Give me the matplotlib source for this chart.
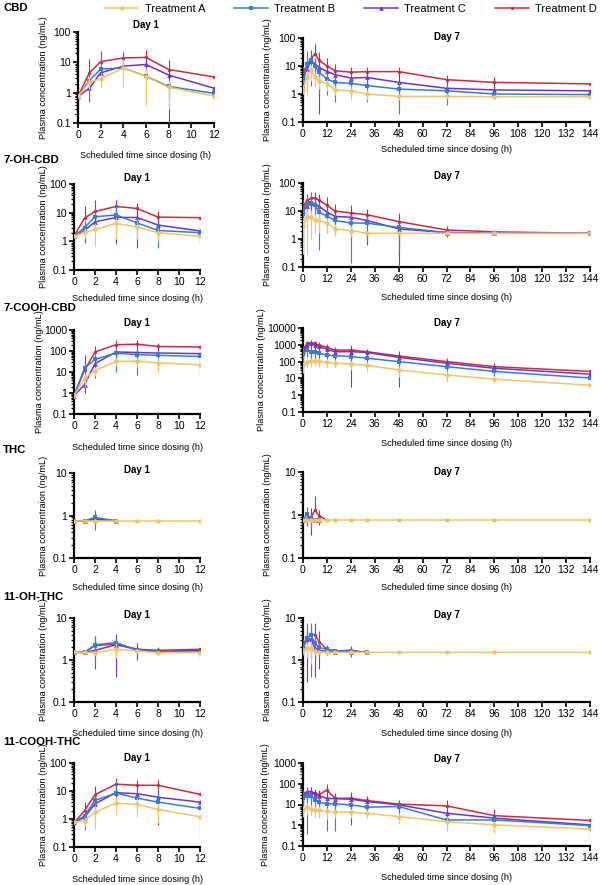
import matplotlib
matplotlib.use("Agg")
import matplotlib.pyplot as plt
import numpy as np
from matplotlib.lines import Line2D
from matplotlib.ticker import LogLocator, FuncFormatter, NullFormatter

plt.rcParams["font.family"] = ["Liberation Sans", "DejaVu Sans"]

# ===================== data =====================
TREATMENTS = ["Treatment A", "Treatment B", "Treatment C", "Treatment D"]
ANALYTES = ["CBD", "7-OH-CBD", "7-COOH-CBD", "THC", "11-OH-THC", "11-COOH-THC"]
T_DAY1 = [0, 1, 2, 4, 6, 8, 12]
T_DAY7 = [0, 2, 4, 6, 8, 12, 16, 24, 32, 48, 72, 96, 144]
NAN = np.nan

# mean per treatment (A, B, C, D), sd per treatment
CBD_D1_MEAN = [[0.75, 2.2, 2.9, 6.5, 3.4, 1.5, 0.78],
               [0.75, 2.5, 6.0, 6.5, 3.5, 1.6, 0.95],
               [0.75, 1.4, 4.5, 7.5, 8.5, 3.8, 1.4],
               [0.75, 4.5, 10.5, 14, 14.5, 5.8, 3.3]]
CBD_D1_SD = [[0, 1.0, 1.5, 5.0, 3.0, 1.2, 0.2],
             [0, 2.0, 14, 9, 3.0, 1.0, 0.35],
             [0, 0.3, 5, 8, 5, 2.0, 1.1],
             [0, 8.5, 13.5, 8, 10.5, 5.7, 6.2]]
CBD_D7_MEAN = [[1.5, 4, 7, 4, 3, 2.3, 1.4, 1.3, 1.0, 0.82, 0.82, 0.8, 0.8],
               [2, 12, 17, 10, 6, 3.4, 2.6, 2.4, 2.0, 1.5, 1.3, 1.0, 0.95],
               [4, 8, 15, 12, 8.9, 6.4, 4.9, 3.7, 3.9, 2.6, 1.6, 1.4, 1.3],
               [6, 10, 18, 27, 16, 10, 6.8, 6, 6.3, 6.3, 3.25, 2.6, 2.3]]
CBD_D7_SD = [[0.5, 3, 4, 2, 1.5, 1.0, 0.5, 0.7, 0.4, 0.2, 0.15, 0.1, 0.2],
             [1, 23, 15, 8, 5, 2.5, 2.1, 1.5, 1.5, 1.3, 0.9, 0.3, 0.3],
             [2, 6, 10, 8, 6, 4, 3, 2.5, 2.5, 2, 1, 0.5, 0.4],
             [4, 10, 20, 33, 15.8, 10, 5.2, 3.5, 2.7, 2.7, 1.65, 1.6, 1.1]]

OHCBD_D1_MEAN = [[1.5, 2.1, 2.6, 4.2, 3.2, 2.0, 1.5],
                 [1.5, 3.0, 7.2, 8.3, 4.4, 2.4, 2.0],
                 [1.5, 2.4, 4.8, 6.8, 6.8, 3.7, 2.3],
                 [1.5, 6.5, 11, 16.5, 14, 7, 6.7]]
OHCBD_D1_SD = [[0, 0.8, 1.9, 3.0, 2.0, 1.0, 0.5],
               [0, 2.0, 9, 12, 3.5, 1.8, 1.1],
               [0, 1.5, 5, 6, 6.2, 2.5, 1.5],
               [0, 10.5, 17, 12, 8, 4.5, 5.5]]
OHCBD_D7_MEAN = [[3, 6, 6, 4.6, 4.6, 3.7, 2.3, 2.0, 1.6, 1.6, 1.6, 1.6, 1.6],
                 [8, 18, 20, 16, 9, 6.6, 4.6, 3.7, 3.7, 2.6, 1.7, 1.6, 1.6],
                 [10, 15, 20, 18, 15, 9.2, 6.4, 6, 4.6, 2.3, 1.7, 1.6, 1.6],
                 [14, 24, 28, 30, 24, 16, 10, 8.5, 7.4, 4.2, 2.1, 1.8, 1.6]]
OHCBD_D7_SD = [[2.7, 5.7, 5, 3, 3, 2, 1, 0.8, 0.1, 0.1, 0.1, 0.1, 0.05],
               [6, 15, 20, 12, 8.6, 5, 3, 3.56, 3, 2.2, 0.3, 0.2, 0.05],
               [6, 10, 15, 12, 10, 7, 5, 5, 4, 2, 0.4, 0.2, 0.05],
               [10, 15, 20, 18, 15, 16, 8, 8.5, 4.6, 4.1, 0.9, 0.3, 0.05]]

COOHCBD_D1_MEAN = [[0.75, 5, 11.6, 32, 33, 27, 22],
                   [0.75, 15, 40, 80, 67, 62, 55],
                   [0.75, 2.5, 25, 90, 85, 80, 75],
                   [0.75, 12, 90, 200, 210, 165, 155]]
COOHCBD_D1_SD = [[0, 3, 5, 12, 15, 18, 15],
                 [0, 12, 40, 70, 60, 50, 45],
                 [0, 1.5, 20, 60, 50, 50, 40],
                 [0, 55, 90, 150, 120, 75, 148]]
COOHCBD_D7_MEAN = [[60, 100, 110, 115, 110, 90, 80, 73, 60, 32, 16, 9, 3.9],
                   [300, 490, 390, 350, 310, 250, 225, 200, 160, 100, 50, 26, 10.5],
                   [400, 950, 1200, 950, 830, 530, 390, 390, 350, 180, 80, 40, 18],
                   [500, 1200, 1370, 1200, 950, 700, 490, 490, 390, 215, 100, 50, 26]]
COOHCBD_D7_SD = [[40, 60, 60, 60, 60, 50, 40, 40, 35, 20, 10, 4, 3],
                 [200, 300, 250, 200, 180, 150, 120, 100, 80, 50, 25, 12, 5],
                 [300, 500, 600, 500, 400, 300, 200, 200, 150, 100, 40, 20, 8],
                 [300, 600, 600, 600, 500, 350, 250, 487, 200, 212, 60, 30, 24]]

THC_D1_MEAN = [[0.75, 0.75, 0.75, 0.75, 0.75, 0.75, 0.75],
               [0.75, 0.75, 0.9, 0.75, NAN, NAN, NAN],
               [0.75, 0.75, 0.8, 0.75, NAN, NAN, NAN],
               [0.75, 0.75, 0.85, 0.75, NAN, NAN, NAN]]
THC_D1_SD = [[0, 0, 0, 0, 0, 0, 0],
             [0, 0, 0.45, 0, 0, 0, 0],
             [0, 0, 0.2, 0, 0, 0, 0],
             [0, 0, 0.3, 0, 0, 0, 0]]
THC_D7_MEAN = [[0.76, 0.76, 0.76, 0.76, 0.76, 0.76, 0.76, 0.76, 0.76, 0.76, 0.76, 0.76, 0.76],
               [0.76, 1.05, 0.8, 0.76, 0.76, NAN, NAN, NAN, NAN, NAN, NAN, NAN, NAN],
               [0.76, 0.8, 0.9, 0.76, 0.76, NAN, NAN, NAN, NAN, NAN, NAN, NAN, NAN],
               [0.76, 0.8, 0.9, 1.3, 0.95, 0.76, NAN, NAN, NAN, NAN, NAN, NAN, NAN]]
THC_D7_SD = [[0, 0, 0, 0, 0, 0, 0, 0, 0, 0, 0, 0, 0],
             [0, 0.5, 0.3, 0, 0, 0, 0, 0, 0, 0, 0, 0, 0],
             [0, 0.2, 0.55, 0, 0, 0, 0, 0, 0, 0, 0, 0, 0],
             [0, 0.2, 0.3, 1.4, 0.35, 0, 0, 0, 0, 0, 0, 0, 0]]

OHTHC_D1_MEAN = [[1.52, 1.52, 1.5, 1.8, 1.65, 1.5, 1.5],
                 [1.52, 1.52, 2.3, 2.6, 1.7, 1.55, 1.55],
                 [1.52, 1.52, 1.7, 2.3, 1.8, 1.6, 1.7],
                 [1.52, 1.52, 2.2, 2.4, 1.8, 1.7, 1.8]]
OHTHC_D1_SD = [[0, 0, 0.2, 0.7, 0.2, 0.1, 0.2],
               [0, 0, 1.5, 1.2, 0.5, 0.1, 0.1],
               [0, 0, 0.5, 1.9, 0.8, 0.2, 0.5],
               [0, 0, 1.6, 1.0, 0.5, 0.3, 0.75]]
OHTHC_D7_MEAN = [[1.7, 1.9, 1.8, 1.6, 1.55, 1.52, 1.52, 1.52, 1.52, 1.52, 1.52, 1.52, 1.52],
                 [1.9, 3.3, 4.0, 2.5, 2.0, 1.8, 1.65, 1.65, 1.52, NAN, NAN, NAN, NAN],
                 [2.3, 3.3, 3.1, 1.9, 1.7, 1.6, 1.55, 1.55, 1.52, NAN, NAN, NAN, NAN],
                 [2.0, 3.0, 4.1, 4.0, 2.75, 1.8, 1.65, 1.7, 1.52, NAN, NAN, NAN, NAN]]
OHTHC_D7_SD = [[0.3, 0.8, 1.0, 0.3, 0.1, 0, 0, 0, 0, 0, 0, 0, 0],
               [0.6, 4.3, 3.6, 1.5, 0.8, 0.5, 0.2, 0.2, 0, 0, 0, 0, 0],
               [0.8, 3.0, 2.0, 0.8, 0.4, 0.2, 0.1, 0.1, 0, 0, 0, 0, 0],
               [0.5, 2.0, 2.5, 3.6, 2.15, 0.4, 0.2, 0.5, 0, 0, 0, 0, 0]]

COOHTHC_D1_MEAN = [[0.75, 0.87, 1.75, 3.7, 3.3, 2.2, 1.2],
                   [0.75, 1.3, 4.6, 8.4, 5.6, 4.0, 2.4],
                   [0.75, 1.15, 3.5, 8.7, 8, 6, 4],
                   [0.72, 2.0, 7.4, 17.5, 16, 16, 7.6]]
COOHTHC_D1_SD = [[0, 0.3, 1.3, 2.2, 2.1, 1.5, 0.6],
                 [0, 0.9, 3.0, 15, 7, 5, 2.6],
                 [0, 0.5, 2.5, 10, 6, 5.4, 2.5],
                 [0, 2.0, 7.6, 12.5, 8, 8, 7.4]]
COOHTHC_D7_MEAN = [[5.5, 7.2, 6.2, 5.5, 5.5, 4.6, 4.3, 4.3, 3.8, 2.6, 1.5, 1.04, 0.66],
                   [20, 27, 26, 17, 12.5, 10.8, 10.8, 9.6, 7.4, 8, 1.8, 1.8, 0.96],
                   [30, 40, 42, 30, 26, 20, 19, 18, 14, 9.6, 3.8, 2.2, 1.04],
                   [31, 42, 42, 35, 30, 50, 20, 20, 15.6, 10.4, 8.6, 2.9, 1.7]]
COOHTHC_D7_SD = [[3, 4, 3, 3, 3, 2.5, 2, 2, 1.5, 1.5, 1.0, 0.6, 0.3],
                 [15, 26.6, 20, 12, 10, 10.3, 10.3, 7, 5, 5, 1.2, 1.2, 0.7],
                 [15, 25, 25, 15, 15, 10, 10, 10, 8, 5, 2, 1.5, 0.6],
                 [20, 25, 25, 20, 20, 45, 15, 19, 10, 7, 7, 3.3, 1.8]]

DAY1 = [(CBD_D1_MEAN, CBD_D1_SD), (OHCBD_D1_MEAN, OHCBD_D1_SD), (COOHCBD_D1_MEAN, COOHCBD_D1_SD),
        (THC_D1_MEAN, THC_D1_SD), (OHTHC_D1_MEAN, OHTHC_D1_SD), (COOHTHC_D1_MEAN, COOHTHC_D1_SD)]
DAY7 = [(CBD_D7_MEAN, CBD_D7_SD), (OHCBD_D7_MEAN, OHCBD_D7_SD), (COOHCBD_D7_MEAN, COOHCBD_D7_SD),
        (THC_D7_MEAN, THC_D7_SD), (OHTHC_D7_MEAN, OHTHC_D7_SD), (COOHTHC_D7_MEAN, COOHTHC_D7_SD)]

YTOP_D1 = [100, 100, 1000, 10, 10, 100]
YTOP_D7 = [100, 100, 10000, 10, 10, 1000]
YLABELS_D1 = ["Plasma concentration (ng/mL)"] * 3 + ["Plasma concentraion (ng/mL)"] + ["Plasma concentration (ng/mL)"] * 2

# ===================== style / layout =====================
COLORS = ["#F3C55E", "#2E7FDC", "#7031D6", "#D7263A"]
MARKERS = ["o", "s", "^", "o"]
MSIZE = [3.2, 3.0, 3.4, 2.4]

W, H = 600, 885
# axes boxes in pixels: (x0, x1, ytop, ybottom)
BOX_D1 = [(78, 214, 32, 123), (74, 200, 184, 270), (74, 200, 330, 414),
          (74, 200, 473, 558), (74, 200, 618, 702), (74, 200, 763, 847)]
BOX_D7 = [(303, 590, 38, 122), (303, 590, 183, 267), (303, 590, 328, 412),
          (303, 590, 472, 558), (303, 590, 618, 702), (303, 590, 763, 846)]
TITLE_Y_D1 = [25, 178, 323, 470, 615, 758]
TITLE_Y_D7 = [37, 176, 323, 472, 615, 759]
XLAB_Y_D1 = [155, 299, 447, 588, 734, 879]
XLAB_Y_D7 = [150, 297, 443, 588, 734, 878]
YLAB_X_D1 = [43, 43, 40, 43, 43, 43]
YLAB_X_D7 = [267, 267, 262, 267, 267, 266]
ROW_Y = [8, 160, 308, 450, 597, 742]


def fx(px):
    return px / W


def fy(py):
    return 1 - py / H


def draw_panel(fig, box, times, data, ytop, xmax, xstep, title, title_y, ylabel, ylab_x, xlab_y):
    x0, x1, yt, yb = box
    ax = fig.add_axes([fx(x0), fy(yb), fx(x1 - x0), (yb - yt) / H])
    ybot = 0.1
    means, sds = data
    t = np.array(times, dtype=float)
    # D drawn first, A on top
    for i in [3, 2, 1, 0]:
        m = np.array(means[i], dtype=float)
        s = np.array(sds[i], dtype=float)
        # negative lower ends are not drawn on a log axis
        low = np.where(m - s > 0, s, 0.0)
        ax.errorbar(t, m, yerr=[low, s], color=COLORS[i], lw=1.1, elinewidth=0.8,
                    capsize=1.8, capthick=0.8, marker=MARKERS[i], ms=MSIZE[i],
                    markeredgewidth=0, zorder=3 + (3 - i))
    ax.set_yscale("log")
    ax.set_ylim(ybot, ytop)
    ax.set_xlim(0, xmax)
    ax.set_xticks(np.arange(0, xmax + 1, xstep))
    ax.yaxis.set_major_locator(LogLocator(base=10, numticks=10))
    ax.yaxis.set_minor_locator(LogLocator(base=10, subs=np.arange(2, 10), numticks=50))
    ax.yaxis.set_major_formatter(FuncFormatter(lambda v, p: f"{v:g}"))
    ax.yaxis.set_minor_formatter(NullFormatter())
    for side in ["top", "right"]:
        ax.spines[side].set_visible(False)
    for side in ["left", "bottom"]:
        ax.spines[side].set_linewidth(1.6)
    ax.tick_params(which="major", length=3.5, width=1.2, labelsize=7.5, pad=1.5, direction="out")
    ax.tick_params(which="minor", length=2.2, width=0.9)
    ax.set_ylabel(ylabel, fontsize=6.6, va="center")
    ax.yaxis.set_label_coords(fx(ylab_x), fy((yt + yb) / 2), transform=fig.transFigure)
    ax.set_xlabel("Scheduled time since dosing (h)", fontsize=6.6, va="center")
    ax.xaxis.set_label_coords(fx((x0 + x1) / 2), fy(xlab_y), transform=fig.transFigure)
    fig.text(fx((x0 + x1) / 2), fy(title_y), title, ha="center", va="center",
             fontsize=7, fontweight="bold")
    return ax


fig = plt.figure(figsize=(W / 100, H / 100), dpi=100)

for r in range(6):
    draw_panel(fig, BOX_D1[r], T_DAY1, DAY1[r], YTOP_D1[r], 12, 2, "Day 1",
               TITLE_Y_D1[r], YLABELS_D1[r], YLAB_X_D1[r], XLAB_Y_D1[r])
    draw_panel(fig, BOX_D7[r], T_DAY7, DAY7[r], YTOP_D7[r], 144, 12, "Day 7",
               TITLE_Y_D7[r], "Plasma concentration (ng/mL)", YLAB_X_D7[r], XLAB_Y_D7[r])
    fig.text(fx(3), fy(ROW_Y[r]), ANALYTES[r], ha="left", va="center",
             fontsize=8.2, fontweight="bold")

handles = [Line2D([0], [0], color=COLORS[i], lw=1.1, marker=MARKERS[i], ms=MSIZE[i],
                  markeredgewidth=0) for i in range(4)]
fig.legend(handles, TREATMENTS, loc="center", bbox_to_anchor=(fx(351), fy(9)), ncol=4,
           frameon=False, fontsize=8, handlelength=3.0, columnspacing=2.6, handletextpad=0.6,
           borderpad=0)

fig.savefig("out.png", dpi=100)
